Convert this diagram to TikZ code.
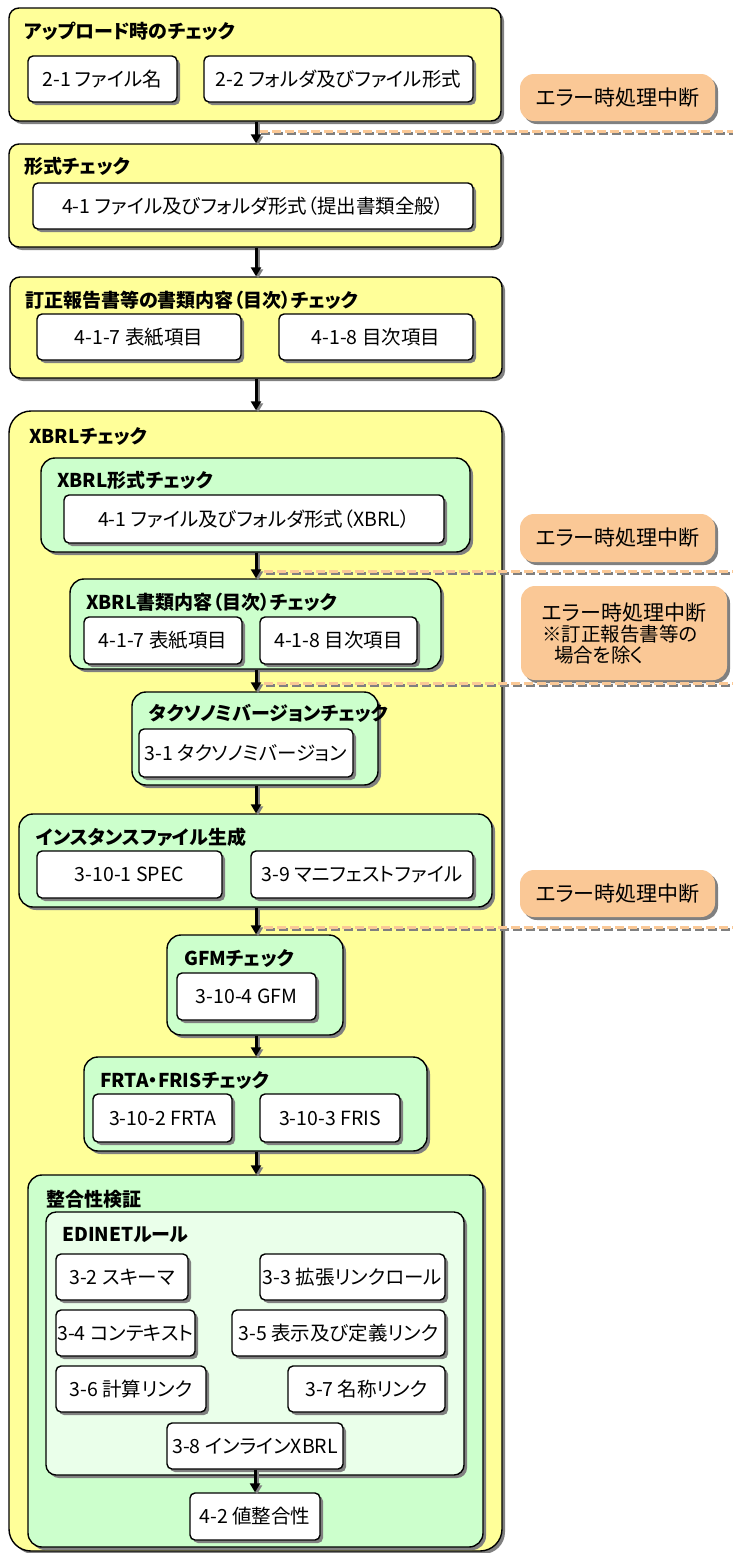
\documentclass[tikz,border=0pt]{standalone}
\usepackage{fontspec}
\setmainfont{Noto Sans CJK JP}[RawFeature=+palt]
\usepackage{xcolor}
\definecolor{stageYellow}{HTML}{FFFF99}
\definecolor{checkGreen}{HTML}{CCFFCC}
\definecolor{ruleGreen}{HTML}{EAFFEA}
\definecolor{errorOrange}{HTML}{FAC896}
\definecolor{shadowGray}{HTML}{808080}
\usepackage{tikz}
\usetikzlibrary{arrows.meta,shadows}
\tikzset{
    stage/.style={
        draw=black,
        fill=stageYellow,
        rectangle,
        rounded corners=10pt,
        line width=1.4pt,
        drop shadow={shadow xshift=3pt, shadow yshift=-3pt, fill=shadowGray, opacity=1}
    },
    check/.style={
        draw=black,
        fill=checkGreen,
        rectangle,
        rounded corners=14pt,
        line width=1.4pt,
        drop shadow={shadow xshift=3pt, shadow yshift=-3pt, fill=shadowGray, opacity=1}
    },
    rulebox/.style={
        draw=black,
        fill=ruleGreen,
        rectangle,
        rounded corners=10pt,
        line width=1.4pt,
        drop shadow={shadow xshift=3pt, shadow yshift=-3pt, fill=shadowGray, opacity=1}
    },
    item/.style={
        draw=black,
        fill=white,
        rectangle,
        rounded corners=5pt,
        line width=1.4pt,
        inner sep=1pt,
        align=center,
        drop shadow={shadow xshift=3pt, shadow yshift=-3pt, fill=shadowGray, opacity=1},
        font=\fontsize{19.5}{22}\selectfont
    },
    errbox/.style={
        fill=errorOrange,
        rectangle,
        rounded corners=14pt,
        inner sep=1pt,
        drop shadow={shadow xshift=3pt, shadow yshift=-3pt, fill=shadowGray, opacity=1},
        font=\fontsize{21}{24}\selectfont
    },
    title/.style={
        anchor=west,
        inner sep=0pt,
        font=\bfseries\fontsize{19}{22}\selectfont
    },
    flow/.style={
        line width=3pt,
        draw=black,
        -{Triangle[length=9pt,width=10pt]}
    },
    flowshadow/.style={
        line width=3pt,
        draw=shadowGray,
        -{Triangle[length=9pt,width=10pt]},
        transform canvas={xshift=2pt, yshift=-2pt}
    },
    cutline/.style={
        line width=3pt,
        draw=errorOrange,
        dash pattern=on 9pt off 4pt
    },
    cutshadow/.style={
        line width=3pt,
        draw=shadowGray,
        dash pattern=on 9pt off 4pt,
        transform canvas={xshift=2pt, yshift=-2.5pt}
    }
}

\begin{document}
\begin{tikzpicture}[x=1pt, y=-1pt]
    \useasboundingbox (0,0) rectangle (733,1553);

    % Upload check
    \node[stage, minimum width=492, minimum height=113] (up) at (255,64.5) {};
    \node[title] (upT) at (24,31) {アップロード時のチェック};
    \node[item, minimum width=149, minimum height=46] (n21) at (102.5,79) {2-1 ファイル名};
    \node[item, minimum width=269, minimum height=46] (n22) at (338.5,79) {2-2 フォルダ及びファイル形式};

    % Format check
    \node[stage, minimum width=492, minimum height=103] (fmt) at (255,195.5) {};
    \node[title] (fmtT) at (24,166) {形式チェック};
    \node[item, minimum width=440, minimum height=46] (n41) at (253,206) {4-1 ファイル及びフォルダ形式（提出書類全般）};

    % Correction report check
    \node[stage, minimum width=492, minimum height=101] (toc) at (256,327.5) {};
    \node[title] (tocT) at (25,300) {訂正報告書等の書類内容（目次）チェック};
    \node[item, minimum width=204, minimum height=46] (n417) at (139,337) {4-1-7 表紙項目};
    \node[item, minimum width=194, minimum height=46] (n418) at (376,337) {4-1-8 目次項目};

    % XBRL check
    \node[stage, rounded corners=22pt, minimum width=493, minimum height=1140] (xbrl) at (255.5,981) {};
    \node[title] (xbrlT) at (29,437) {XBRLチェック};

    \node[check, minimum width=429, minimum height=94] (xfmt) at (255.5,505) {};
    \node[title] (xfmtT) at (57,480) {XBRL形式チェック};
    \node[item, minimum width=380, minimum height=48] (x41) at (254,519) {4-1 ファイル及びフォルダ形式（XBRL）};

    \node[check, minimum width=371, minimum height=90] (xtoc) at (255.5,624) {};
    \node[title] (xtocT) at (86,602) {XBRL書類内容（目次）チェック};
    \node[item, minimum width=158, minimum height=47] (x417) at (163,640.5) {4-1-7 表紙項目};
    \node[item, minimum width=157, minimum height=47] (x418) at (338.5,640.5) {4-1-8 目次項目};

    \node[check, minimum width=246, minimum height=93] (tax) at (255,738.5) {};
    \node[title] (taxT) at (149,713) {タクソノミバージョンチェック};
    \node[item, minimum width=214, minimum height=48] (t31) at (246,753) {3-1 タクソノミバージョン};

    \node[check, minimum width=473, minimum height=93] (inst) at (255.5,860.5) {};
    \node[title] (instT) at (36,837) {インスタンスファイル生成};
    \node[item, minimum width=185, minimum height=47] (spec) at (129.5,874.5) {3-10-1 SPEC};
    \node[item, minimum width=222, minimum height=47] (mani) at (362,874.5) {3-9 マニフェストファイル};

    \node[check, minimum width=176, minimum height=100] (gfm) at (255,985) {};
    \node[title] (gfmT) at (184,958) {GFMチェック};
    \node[item, minimum width=139, minimum height=47] (g) at (246.5,996.5) {3-10-4 GFM};

    \node[check, minimum width=343, minimum height=94] (frta) at (255.5,1104) {};
    \node[title] (frtaT) at (100,1080) {FRTA・FRISチェック};
    \node[item, minimum width=139, minimum height=48] (frt) at (162.5,1118) {3-10-2 FRTA};
    \node[item, minimum width=140, minimum height=48] (fri) at (330,1118) {3-10-3 FRIS};

    % Consistency
    \node[check, minimum width=455, minimum height=372] (cons) at (255.5,1361) {};
    \node[title] (consT) at (46,1199) {整合性検証};
    \node[rulebox, minimum width=418, minimum height=263] (edinet) at (255,1343.5) {};
    \node[title] (edinetT) at (62,1235) {EDINETルール};
    \node[item, minimum width=132, minimum height=46] (r32) at (122,1277) {3-2 スキーマ};
    \node[item, minimum width=185, minimum height=46] (r33) at (352.5,1277) {3-3 拡張リンクロール};
    \node[item, minimum width=139, minimum height=46] (r34) at (125.5,1333) {3-4 コンテキスト};
    \node[item, minimum width=213, minimum height=46] (r35) at (338.5,1333) {3-5 表示及び定義リンク};
    \node[item, minimum width=150, minimum height=46] (r36) at (131,1389) {3-6 計算リンク};
    \node[item, minimum width=157, minimum height=46] (r37) at (366.5,1389) {3-7 名称リンク};
    \node[item, minimum width=176, minimum height=46] (r38) at (255,1446) {3-8 インラインXBRL};
    \node[item, minimum width=130, minimum height=47] (v42) at (255,1516.5) {4-2 値整合性};

    % Error stops
    \node[errbox, minimum width=195, minimum height=47] (e1) at (617.5,97.5) {エラー時処理中断};
    \node[errbox, minimum width=195, minimum height=48] (e2) at (617.5,538) {エラー時処理中断};
    \node[errbox, minimum width=206, minimum height=94, align=left] (e3) at (624,633)
        {エラー時処理中断\\[-3pt]{\fontsize{19.5}{22}\selectfont ※訂正報告書等の}\\[-3pt]{\fontsize{19.5}{22}\selectfont\hspace{12pt}場合を除く}};
    \node[errbox, minimum width=195, minimum height=47] (e4) at (617.5,893.5) {エラー時処理中断};

    \coordinate (cut1a) at (259,131);  \coordinate (cut1b) at (740,131);
    \coordinate (cut2a) at (264,571);  \coordinate (cut2b) at (740,571);
    \coordinate (cut3a) at (264,683);  \coordinate (cut3b) at (740,683);
    \coordinate (cut4a) at (264,927);  \coordinate (cut4b) at (740,927);
    \foreach \c in {1,2,3,4} {
        \draw[cutshadow] (cut\c a) -- (cut\c b);
        \draw[cutline] (cut\c a) -- (cut\c b);
    }

    % Flow arrows
    \coordinate (spine) at (256,0);
    \foreach \a/\b in {up/fmt, fmt/toc, toc/xbrl, xfmt/xtoc, xtoc/tax, tax/inst, inst/gfm, gfm/frta, frta/cons} {
        \draw[flowshadow] (\a.south -| spine) -- (\b.north -| spine);
        \draw[flow] (\a.south -| spine) -- (\b.north -| spine);
    }
    \draw[flowshadow] (r38.south) -- (v42.north);
    \draw[flow] (r38.south) -- (v42.north);
\end{tikzpicture}
\end{document}
